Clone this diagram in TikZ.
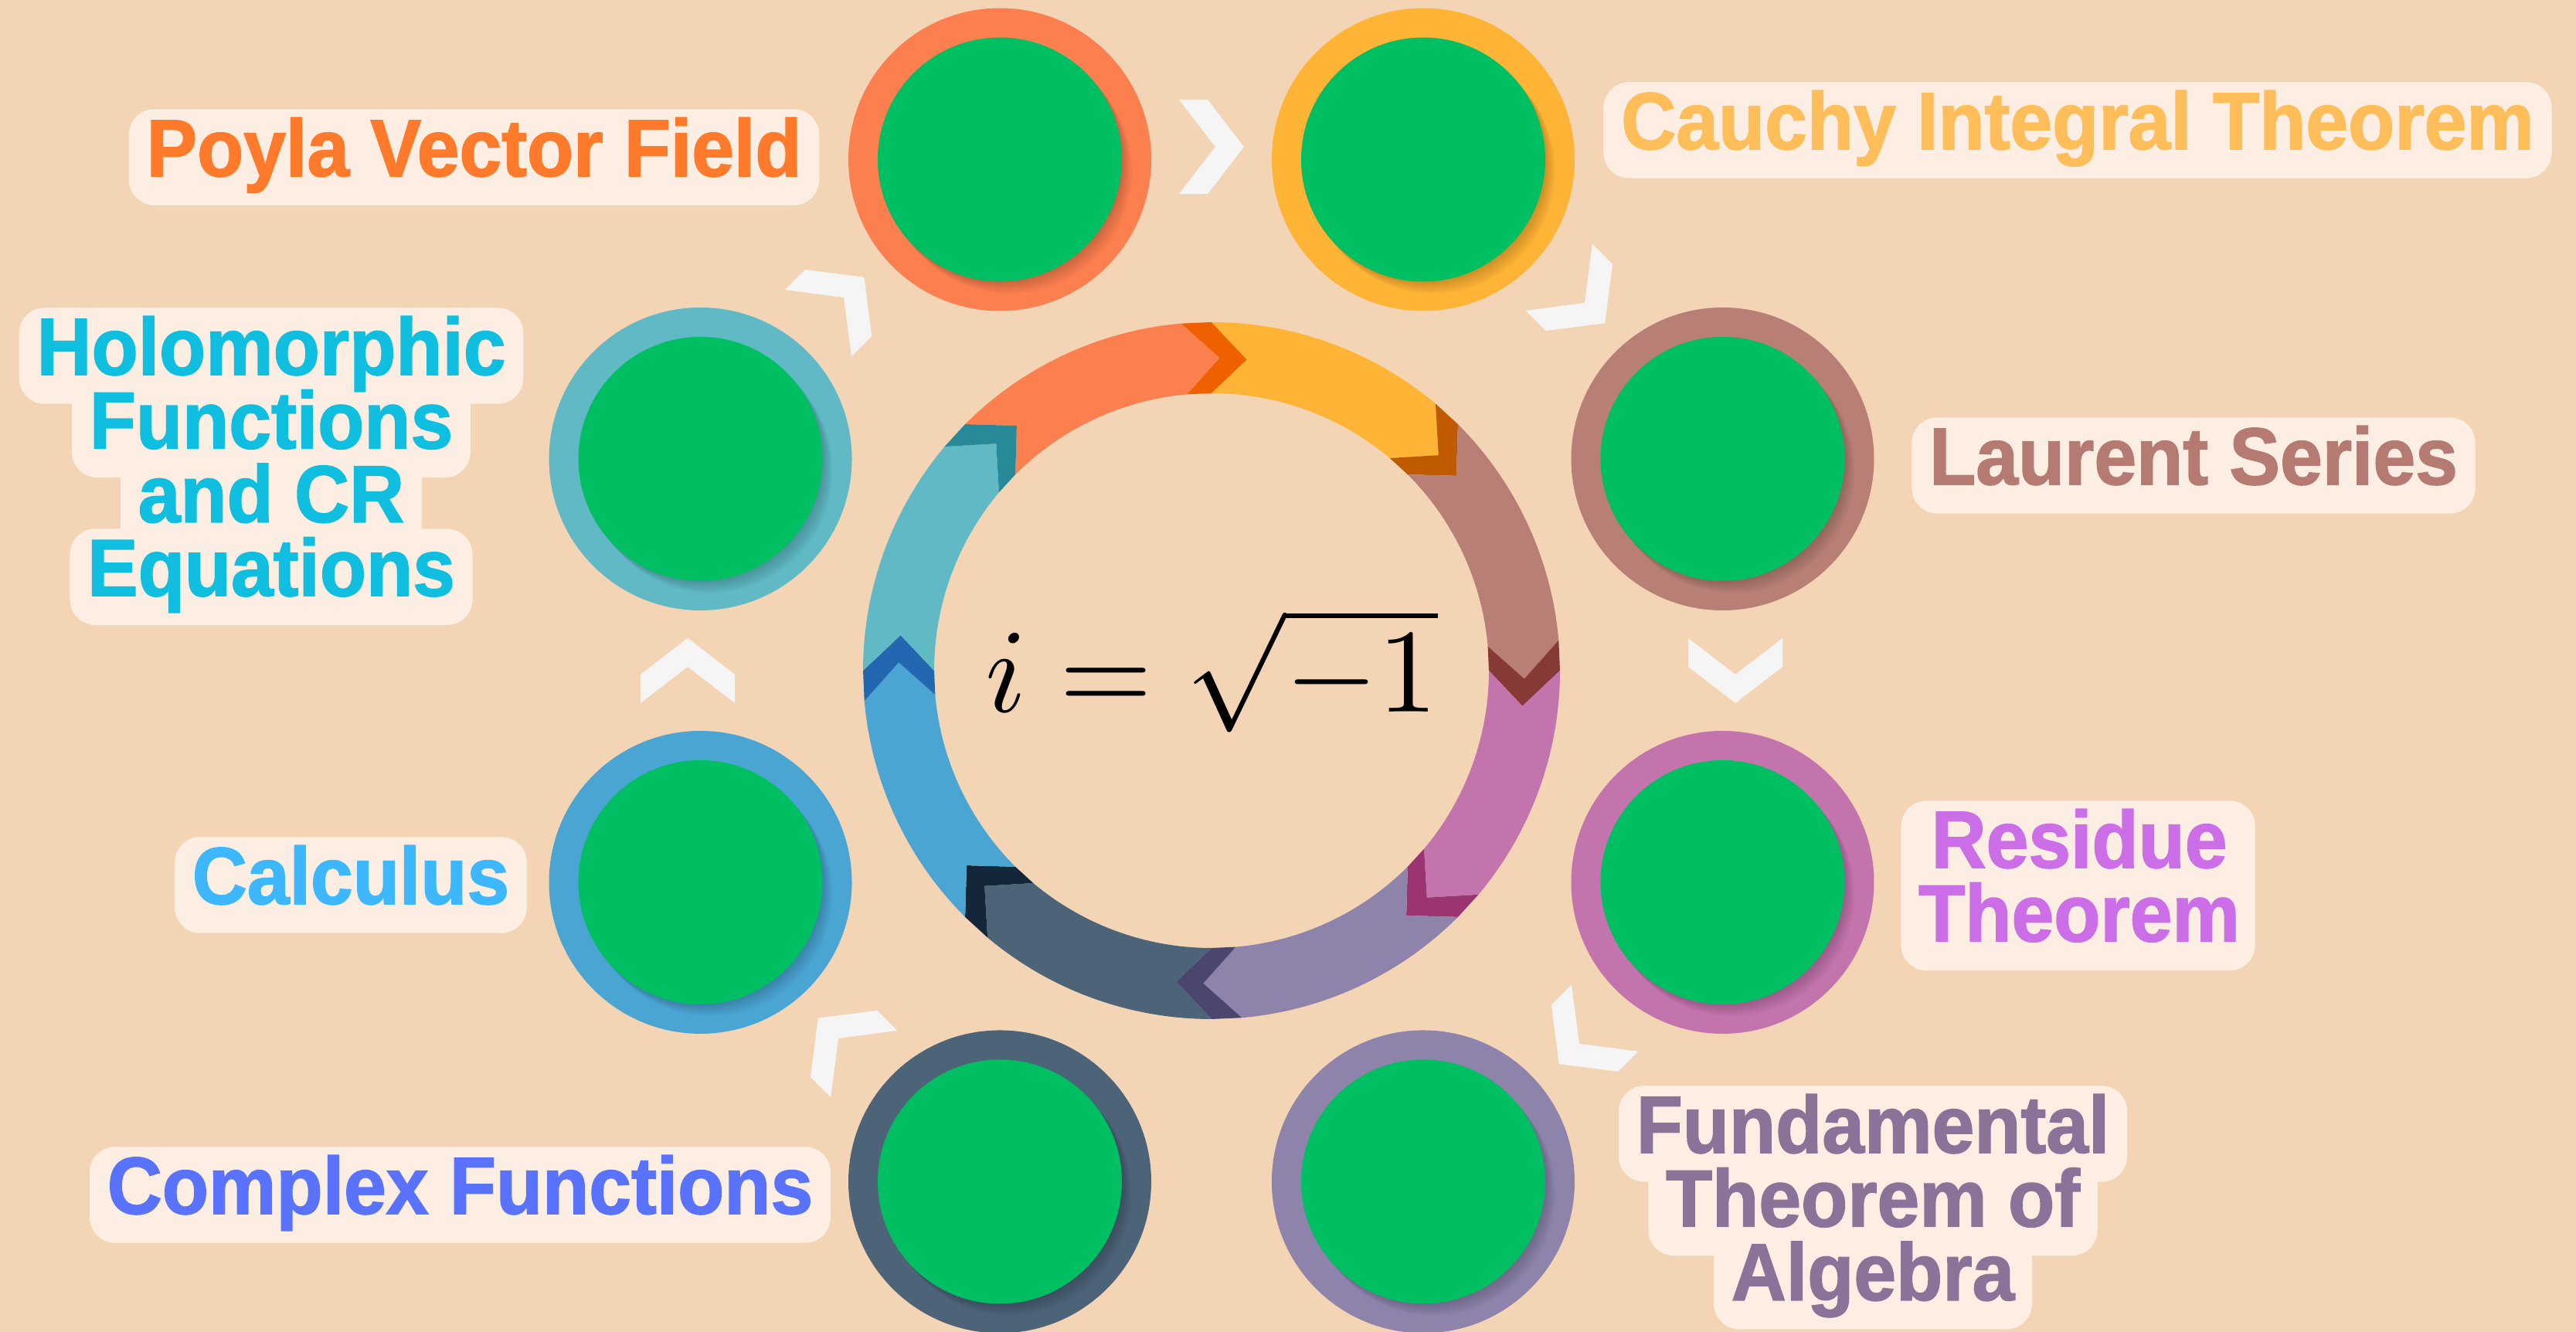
\documentclass[tikz,border=0pt]{standalone}
\usepackage{fontspec}
\newfontfamily\tagfont[FakeStretch=0.94,FakeBold=1.5]{Liberation Sans}
\usepackage{tikz}
\usetikzlibrary{positioning,calc,backgrounds}

\definecolor{paper}{HTML}{F3D5B6}
\definecolor{tagfill}{HTML}{FCEEE2}
\definecolor{disc}{HTML}{00BF63}
\definecolor{chevron}{HTML}{F5F5F5}
\definecolor{cOrange}{HTML}{FC7F50}\definecolor{dOrange}{HTML}{EF6000}
\definecolor{cYellow}{HTML}{FFB436}\definecolor{dYellow}{HTML}{BF5A00}
\definecolor{cBrown}{HTML}{B77F76}\definecolor{dBrown}{HTML}{873A35}
\definecolor{cPink}{HTML}{C474AC}\definecolor{dPink}{HTML}{9A3572}
\definecolor{cPurple}{HTML}{8E84AB}\definecolor{dPurple}{HTML}{4B4670}
\definecolor{cSlate}{HTML}{4D6478}\definecolor{dSlate}{HTML}{13263A}
\definecolor{cBlue}{HTML}{4BA5D3}\definecolor{dBlue}{HTML}{2268B0}
\definecolor{cTeal}{HTML}{60B9C4}\definecolor{dTeal}{HTML}{288A99}
\definecolor{tOrange}{HTML}{FF7A2A}
\definecolor{tYellow}{HTML}{FFBE5A}
\definecolor{tBrown}{HTML}{B57A72}
\definecolor{tPink}{HTML}{CC6EE8}
\definecolor{tPurple}{HTML}{8A7399}
\definecolor{tSlate}{HTML}{5A73FF}
\definecolor{tBlue}{HTML}{3DB8FF}
\definecolor{tTeal}{HTML}{10BFE0}

\begin{document}
\begin{tikzpicture}[
    node distance=0.4cm,
    stage/.style={circle, minimum size=3.92cm, inner sep=0pt},
    core/.style={circle, fill=disc, minimum size=3.16cm, inner sep=0pt},
    tag/.style={inner xsep=0.22cm, inner ysep=0pt, text height=0.86cm, text depth=0.37cm,
        font=\tagfont\bfseries\fontsize{29.8}{26.7}\selectfont},
    arrowhead/.style={fill=chevron}
]
    \useasboundingbox (0,0) rectangle (33.34,17.24);
    \coordinate (hub) at (15.68,8.56);

    % ring of arrows
    \begin{scope}[shift={(hub)}]
        \foreach \s/\col/\dk in {135/cOrange/dOrange, 90/cYellow/dYellow, 45/cBrown/dBrown,
            0/cPink/dPink, -45/cPurple/dPurple, -90/cSlate/dSlate, -135/cBlue/dBlue, -180/cTeal/dTeal}{
            \pgfmathsetmacro\segend{\s-45}
            \fill[\col] (\s:4.51) -- (\s-6.5:4.05) -- (\s:3.59)
                arc[start angle=\s, end angle=\segend+5, radius=3.59]
                -- (\segend-1.5:4.05) -- (\segend+5:4.51)
                arc[start angle=\segend+5, end angle=\s, radius=4.51] -- cycle;
            \fill[\dk] (\segend+5:4.51) -- (\segend-1.5:4.05) -- (\segend+5:3.59)
                -- (\segend:3.59) -- (\segend-6.5:4.05) -- (\segend:4.51) -- cycle;
        }
    \end{scope}

    \node[inner sep=0pt] (eq) at (hub) {\scalebox{4.4}{$i=\sqrt{-1}$}};

    % white chevrons between the stages
    \foreach \a in {90,45,0,-45,-135,-180,-225}
        \fill[arrowhead, shift={($(hub)+(\a:6.78)$)}, rotate=\a-90]
            (-0.42,0.61) -- (-0.05,0.61) -- (0.42,0) -- (-0.05,-0.61) -- (-0.42,-0.61) -- (0.05,0) -- cycle;

    % stages
    \foreach \a/\n/\col in {112.5/poyla/cOrange, 67.5/cauchy/cYellow, 22.5/laurent/cBrown,
        -22.5/residue/cPink, -67.5/fta/cPurple, -112.5/cfun/cSlate, -157.5/calc/cBlue, 157.5/holo/cTeal}{
        \node[stage, fill=\col] (\n) at ($(hub)+(\a:7.16)$) {};
        \foreach \k in {1,...,8}
            \fill[black, opacity=0.025] ($(\n)+(-50:0.025*\k)$) circle (1.58);
        \node[core] (\n-core) at (\n) {};
    }

    % labels
    \node[tag, text=tOrange, anchor=base] (poylatag) at (6.135,14.96) {Poyla Vector Field};
    \node[tag, text=tYellow, anchor=base] (cauchytag) at (26.89,15.31) {Cauchy Integral Theorem};
    \node[tag, text=tBrown, anchor=base] (laurenttag) at (28.39,10.97) {Laurent Series};
    \node[tag, text=tPink, anchor=base, minimum width=4.54cm] (residue1) at (26.91,6.01) {Residue};
    \node[tag, text=tPink, below=-0.29cm of residue1, minimum width=4.54cm] (residue2) {Theorem};
    \node[tag, text=tPurple, anchor=base] (fta1) at (24.24,2.32) {Fundamental};
    \node[tag, text=tPurple, below=-0.29cm of fta1] (fta2) {Theorem of};
    \node[tag, text=tPurple, below=-0.29cm of fta2] (fta3) {Algebra};
    \node[tag, text=tSlate, anchor=base] (cfuntag) at (5.955,1.53) {Complex Functions};
    \node[tag, text=tBlue, anchor=base] (calctag) at (4.54,5.54) {Calculus};
    \node[tag, text=tTeal, anchor=base] (holo1) at (3.51,12.39) {Holomorphic};
    \node[tag, text=tTeal, below=-0.29cm of holo1] (holo2) {Functions};
    \node[tag, text=tTeal, below=-0.29cm of holo2] (holo3) {and CR};
    \node[tag, text=tTeal, below=-0.29cm of holo3] (holo4) {Equations};

    \begin{scope}[on background layer]
        \fill[paper] (0,0) rectangle (33.34,17.24);
        \foreach \lbl in {poylatag,cauchytag,laurenttag,fta1,fta2,fta3,cfuntag,calctag,holo1,holo2,holo3,holo4}
            \fill[tagfill, rounded corners=0.33cm] (\lbl.south west) rectangle (\lbl.north east);
        \fill[tagfill, rounded corners=0.33cm] (residue2.south west) rectangle (residue1.north east);
    \end{scope}
\end{tikzpicture}
\end{document}
